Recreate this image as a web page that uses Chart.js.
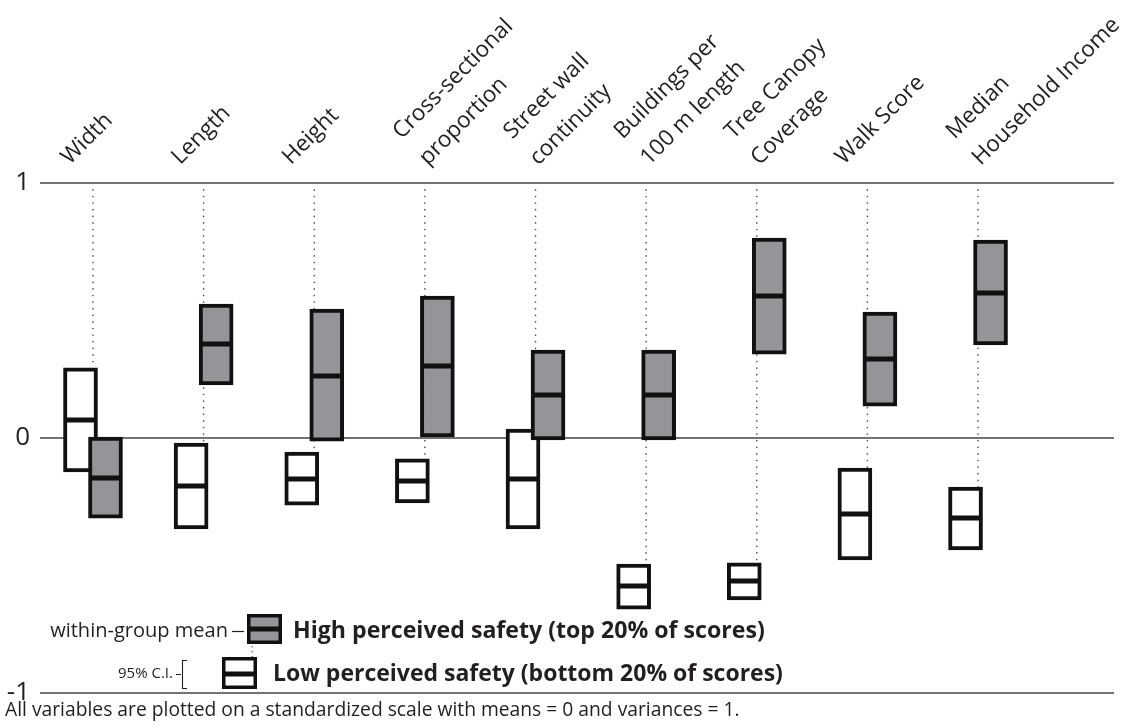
<!DOCTYPE html>
<html>
<head>
<meta charset="utf-8">
<script src="https://cdn.jsdelivr.net/npm/chart.js@4.4.1/dist/chart.umd.min.js"></script>
<style>
  html, body { margin: 0; padding: 0; background: #ffffff; }
  #wrap { width: 1144px; height: 728px; position: relative; }
</style>
</head>
<body>
<div id="wrap"><canvas id="chart" width="1144" height="728"></canvas></div>
<script>
// Street-level variables (one column each)
const CATEGORIES = [
  'Width',
  'Length',
  'Height',
  ['Cross-sectional', 'proportion'],
  ['Street wall', 'continuity'],
  ['Buildings per', '100 m length'],
  ['Tree Canopy', 'Coverage'],
  'Walk Score',
  ['Median', 'Household Income']
];

// High perceived safety (top 20% of scores): 95% C.I. bounds and group mean
const HIGH_CI_LOW  = [-0.314, 0.208, -0.012, 0.004, -0.008, -0.008, 0.329, 0.125, 0.365];
const HIGH_CI_HIGH = [ 0.004, 0.525,  0.506, 0.557,  0.345,  0.345, 0.784, 0.494, 0.776];
const HIGH_MEAN    = [-0.157, 0.369,  0.243, 0.282,  0.169,  0.169, 0.557, 0.310, 0.569];

// Low perceived safety (bottom 20% of scores): 95% C.I. bounds and group mean
const LOW_CI_LOW  = [-0.133, -0.357, -0.263, -0.255, -0.357, -0.671, -0.635, -0.478, -0.439];
const LOW_CI_HIGH = [ 0.275, -0.020, -0.055, -0.082,  0.035, -0.494, -0.490, -0.118, -0.192];
const LOW_MEAN    = [ 0.071, -0.188, -0.161, -0.169, -0.161, -0.580, -0.561, -0.298, -0.314];

// Standardized scale
const Y_TICKS = [-1, 0, 1];
const Y_TICK_LABELS = { '-1': '-1', '0': '0', '1': '1' };

const LEGEND_HIGH = 'High perceived safety (top 20% of scores)';
const LEGEND_LOW = 'Low perceived safety (bottom 20% of scores)';
const LEGEND_MEAN_NOTE = 'within-group mean';
const LEGEND_CI_NOTE = '95% C.I.';
const FOOTNOTE = 'All variables are plotted on a standardized scale with means = 0 and variances = 1.';

// ---- styling / layout constants ----
const FONT = '"Open Sans", "Noto Sans", sans-serif';
const INK = '#231f20';
const GRAY_FILL = '#939598';
const GRID_GRAY = '#727376';
const PAIR_SHIFT = 0.113;     // horizontal shift of each box from its column centre (x units)
const GUIDE_TOP = 0.973;      // where the dotted column guides start
const X_MIN = -0.479, X_MAX = 9.229;

const idx = CATEGORIES.map((_, i) => i);

const lowBoxes = idx.map(i => ({ x: i - PAIR_SHIFT, y: [LOW_CI_LOW[i], LOW_CI_HIGH[i]] }));
const highBoxes = idx.map(i => ({ x: i + PAIR_SHIFT, y: [HIGH_CI_LOW[i], HIGH_CI_HIGH[i]] }));
const lowMeans = idx.map(i => ({ x: i - PAIR_SHIFT, y: LOW_MEAN[i] }));
const highMeans = idx.map(i => ({ x: i + PAIR_SHIFT, y: HIGH_MEAN[i] }));

// dotted guide for each column: from the top line down to the low-safety box
const guides = [];
idx.forEach(i => {
  guides.push({ x: i, y: GUIDE_TOP });
  guides.push({ x: i, y: LOW_CI_HIGH[i] });
  guides.push({ x: i, y: null });
});

function fitFont(ctx, text, weight, target, base) {
  ctx.font = weight + ' ' + base + 'px ' + FONT;
  const w = ctx.measureText(text).width;
  return weight + ' ' + (base * target / w).toFixed(2) + 'px ' + FONT;
}

// Rotated column headings above the top line
const headingPlugin = {
  id: 'headings',
  afterDraw(chart) {
    const ctx = chart.ctx;
    const xs = chart.scales.x;
    const top = chart.chartArea.top;
    ctx.save();
    ctx.fillStyle = INK;
    ctx.font = '22.5px ' + FONT;
    ctx.textAlign = 'left';
    ctx.textBaseline = 'alphabetic';
    CATEGORIES.forEach((lab, i) => {
      const px = xs.getPixelForValue(i);
      const lines = Array.isArray(lab) ? lab : [lab];
      ctx.save();
      ctx.translate(px, top);
      ctx.rotate(-Math.PI / 4);
      if (lines.length === 1) {
        ctx.fillText(lines[0], -4, -29);
      } else {
        ctx.fillText(lines[0], 14, -47);
        ctx.fillText(lines[1], 14, -10);
      }
      ctx.restore();
    });
    ctx.restore();
  }
};

// Key in the lower-left corner and the footnote
const keyPlugin = {
  id: 'key',
  afterDraw(chart) {
    const ctx = chart.ctx;
    ctx.save();
    ctx.fillStyle = INK;
    ctx.strokeStyle = INK;

    // small notes
    ctx.textBaseline = 'middle';
    ctx.textAlign = 'right';
    ctx.font = fitFont(ctx, LEGEND_MEAN_NOTE, '400', 178, 16);
    ctx.fillText(LEGEND_MEAN_NOTE, 228, 631);
    ctx.font = '400 15px ' + FONT;
    ctx.fillText(LEGEND_CI_NOTE, 173, 674);

    // dash to the mean bar
    ctx.lineWidth = 1.2;
    ctx.beginPath(); ctx.moveTo(232, 631.5); ctx.lineTo(244, 631.5); ctx.stroke();

    // bracket for the interval
    ctx.lineWidth = 1.1;
    ctx.beginPath();
    ctx.moveTo(176, 674.5); ctx.lineTo(181, 674.5);
    ctx.moveTo(187, 660.5); ctx.lineTo(182.5, 660.5); ctx.lineTo(182.5, 688.5); ctx.lineTo(187, 688.5);
    ctx.stroke();

    // dotted link between the two key boxes
    ctx.fillStyle = '#6d6e71';
    for (let y = 646; y < 657; y += 5) ctx.fillRect(251.5, y, 1.4, 1.4);

    // key boxes
    const box = (x, y, w, h, fill, my) => {
      ctx.fillStyle = fill;
      ctx.fillRect(x, y, w, h);
      ctx.lineWidth = 3.5;
      ctx.strokeStyle = '#111';
      ctx.strokeRect(x + 1.75, y + 1.75, w - 3.5, h - 3.5);
      ctx.fillStyle = '#111';
      ctx.fillRect(x, my - 2.5, w, 5);
    };
    box(247, 614, 35, 30, GRAY_FILL, 629);
    box(222, 657, 35, 32, '#ffffff', 674);

    // key labels
    ctx.fillStyle = INK;
    ctx.textAlign = 'left';
    ctx.font = fitFont(ctx, LEGEND_HIGH, '700', 472, 20);
    ctx.fillText(LEGEND_HIGH, 293, 631);
    ctx.font = fitFont(ctx, LEGEND_LOW, '700', 510, 20);
    ctx.fillText(LEGEND_LOW, 273, 674);

    // footnote
    ctx.font = fitFont(ctx, FOOTNOTE, '400', 735, 16);
    ctx.fillText(FOOTNOTE, 5, 711);
    ctx.restore();
  }
};

const meanStyle = {
  type: 'line',
  showLine: false,
  pointStyle: 'line',
  pointRadius: 16,
  pointBorderWidth: 5,
  pointBorderColor: '#111111',
  borderColor: '#111111'
};

const chart = new Chart(document.getElementById('chart'), {
  type: 'bar',
  data: {
    datasets: [
      {
        type: 'line',
        data: guides,
        borderColor: '#58595b',
        borderWidth: 1.7,
        borderDash: [0, 6.6],
        borderCapStyle: 'round',
        pointRadius: 0,
        spanGaps: false,
        order: 5
      },
      {
        label: LEGEND_LOW,
        data: lowBoxes,
        backgroundColor: '#ffffff',
        borderColor: '#111111',
        borderWidth: 4,
        borderSkipped: false,
        barThickness: 34,
        grouped: false,
        order: 4
      },
      {
        label: LEGEND_HIGH,
        data: highBoxes,
        backgroundColor: GRAY_FILL,
        borderColor: '#111111',
        borderWidth: 4,
        borderSkipped: false,
        barThickness: 34,
        grouped: false,
        order: 3
      },
      Object.assign({ data: lowMeans, order: 2 }, meanStyle),
      Object.assign({ data: highMeans, order: 1 }, meanStyle)
    ]
  },
  options: {
    responsive: false,
    animation: false,
    devicePixelRatio: 1,
    layout: { padding: { left: 0, top: 183, right: 30, bottom: 35 } },
    plugins: { legend: { display: false }, tooltip: { enabled: false } },
    scales: {
      x: {
        type: 'linear',
        display: false,
        offset: false,
        min: X_MIN,
        max: X_MAX
      },
      y: {
        min: -1,
        max: 1,
        afterBuildTicks(scale) { scale.ticks = Y_TICKS.map(v => ({ value: v })); },
        afterFit(scale) { scale.width = 40; },
        border: { display: false },
        grid: { color: GRID_GRAY, lineWidth: 2, drawTicks: false },
        ticks: {
          padding: 10,
          color: INK,
          font: { family: FONT, size: 26 },
          callback: v => Y_TICK_LABELS[String(v)]
        }
      }
    }
  },
  plugins: [headingPlugin, keyPlugin]
});
</script>
</body>
</html>
